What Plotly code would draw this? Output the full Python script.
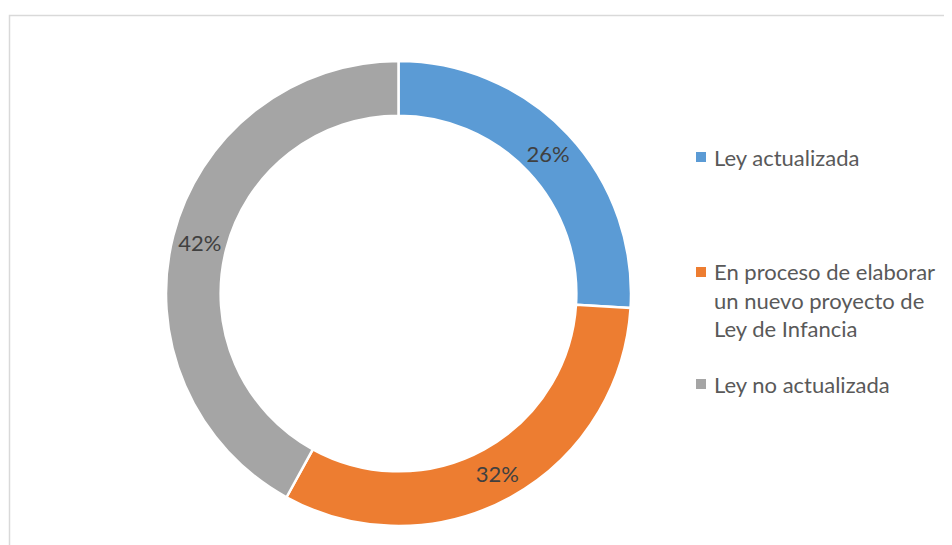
import textwrap
import plotly.graph_objects as go

categories = ["Ley actualizada",
              "En proceso de elaborar un nuevo proyecto de Ley de Infancia",
              "Ley no actualizada"]
values = [26, 32, 42]
colors = ["#5B9BD5", "#ED7D31", "#A5A5A5"]

# page body has an 8px margin; figure fills the rest of the 952x545 window
OFF = 8
W, H = 952 - OFF, 545 - OFF
FONT = "Lato"


def px(x):
    return (x - OFF) / W


def py(y):
    return 1 - (y - OFF) / H


fig = go.Figure()
fig.add_trace(go.Pie(
    labels=categories,
    values=values,
    hole=0.765,
    sort=False,
    direction="clockwise",
    rotation=0,
    marker=dict(colors=colors, line=dict(color="white", width=2.5)),
    texttemplate="%{percent:.0%}",
    textposition="inside",
    insidetextorientation="horizontal",
    textfont=dict(family=FONT, size=22, color="#404040"),
    domain=dict(x=[px(166), px(631)], y=[py(526), py(61)]),
    showlegend=False,
    hoverinfo="label+percent",
))

# legend drawn manually
item_y = [157, 272, 384]
line_h = 28
shapes = [dict(type="rect", xref="paper", yref="paper",
               x0=px(9.5), x1=1.02, y0=-0.02, y1=py(15.5),
               line=dict(color="#D9D9D9", width=1.5), fillcolor="rgba(0,0,0,0)")]
annotations = []
for cat, col, yc in zip(categories, colors, item_y):
    shapes.append(dict(type="rect", xref="paper", yref="paper",
                       x0=px(696), x1=px(706),
                       y0=py(yc + 5), y1=py(yc - 5),
                       line=dict(width=0), fillcolor=col))
    for i, line in enumerate(textwrap.wrap(cat, 22)):
        annotations.append(dict(xref="paper", yref="paper",
                                x=px(712), y=py(yc + i * line_h),
                                xanchor="left", yanchor="middle",
                                text=line, showarrow=False,
                                font=dict(family=FONT, size=22, color="#595959")))

fig.update_layout(
    width=W, height=H,
    margin=dict(l=0, r=0, t=0, b=0),
    paper_bgcolor="white", plot_bgcolor="white",
    shapes=shapes, annotations=annotations,
    font=dict(family=FONT),
)
fig.write_html("out.html")
